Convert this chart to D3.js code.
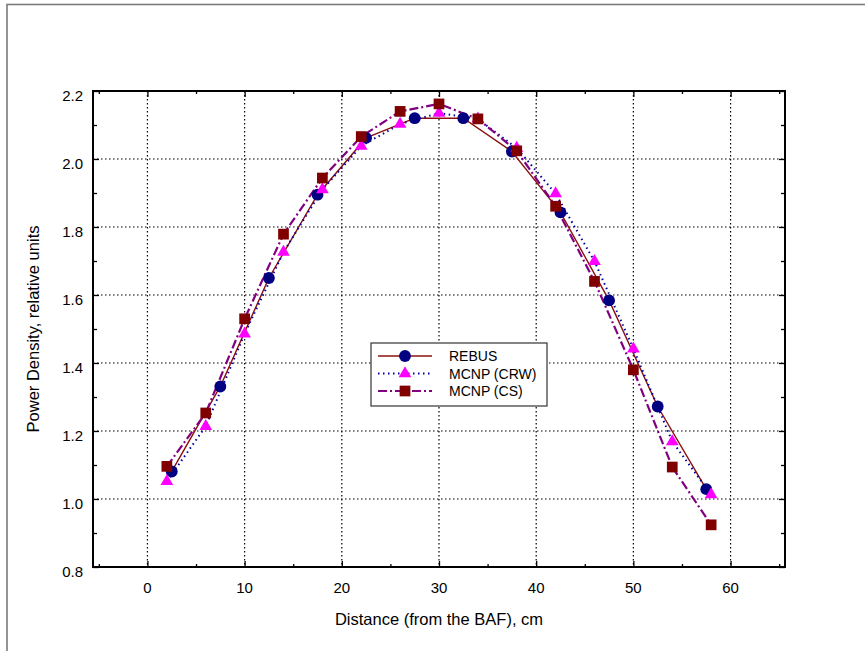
<!DOCTYPE html>
<html><head><meta charset="utf-8">
<script src="https://cdn.jsdelivr.net/npm/d3@7"></script>
<style>body{margin:0;background:#fff}svg{display:block}text{font-family:"Liberation Sans",Arial,sans-serif;fill:#000}</style>
</head><body><svg id="c" width="865" height="651"></svg>
<script>
const rebusX = [2.5, 7.5, 12.5, 17.5, 22.5, 27.5, 32.5, 37.5, 42.5, 47.5, 52.5, 57.5];
const rebusY = [1.081, 1.331, 1.650, 1.895, 2.062, 2.120, 2.120, 2.022, 1.843, 1.584, 1.272, 1.029];
const mcnpX = [2, 6, 10, 14, 18, 22, 26, 30, 34, 38, 42, 46, 50, 54, 58];
const crwY = [1.052, 1.214, 1.486, 1.726, 1.910, 2.038, 2.103, 2.135, 2.118, 2.032, 1.898, 1.699, 1.442, 1.169, 1.013];
const csY  = [1.096, 1.253, 1.530, 1.779, 1.944, 2.066, 2.140, 2.162, 2.118, 2.024, 1.861, 1.640, 1.380, 1.094, 0.924];
const xTicks = [0, 10, 20, 30, 40, 50, 60];
const xMinor = [-5, 5, 15, 25, 35, 45, 55, 65];
const yTicks = [0.8, 1.0, 1.2, 1.4, 1.6, 1.8, 2.0, 2.2];
const yMinor = [0.9, 1.1, 1.3, 1.5, 1.7, 1.9, 2.1];
const seriesNames = ["REBUS", "MCNP (CRW)", "MCNP (CS)"];
const xTitle = "Distance (from the BAF), cm";
const yTitle = "Power Density, relative units";

const svg = d3.select("#c");
const L = 93, R = 785, T = 91, B = 567;
const x = d3.scaleLinear().domain([-5.6, 65.6]).range([L, R]);
const y = d3.scaleLinear().domain([0.8, 2.2]).range([B, T]);

// outer frame
svg.append("rect").attr("x", 7).attr("y", 4.5).attr("width", 900).attr("height", 700)
  .attr("fill", "none").attr("stroke", "#7a7a7a").attr("stroke-width", 1.6);

// grid
const g = svg.append("g");
g.selectAll(".gx").data(xTicks).join("line")
  .attr("x1", d => x(d)).attr("x2", d => x(d)).attr("y1", T).attr("y2", B)
  .attr("stroke", "#000").attr("stroke-width", 1.2).attr("stroke-dasharray", "1.5,2.5");
g.selectAll(".gy").data(yTicks).join("line")
  .attr("y1", d => y(d)).attr("y2", d => y(d)).attr("x1", L).attr("x2", R)
  .attr("stroke", "#000").attr("stroke-width", 1.2).attr("stroke-dasharray", "1.5,2.5");

// axes with inward ticks
const axB = d3.axisBottom(x).tickValues(xTicks).tickSize(-6).tickFormat("");
const axT = d3.axisTop(x).tickValues(xTicks).tickSize(-6).tickFormat("");
const axLft = d3.axisLeft(y).tickValues(yTicks).tickSize(-6).tickFormat("");
const axRt = d3.axisRight(y).tickValues(yTicks).tickSize(-6).tickFormat("");
const axBm = d3.axisBottom(x).tickValues(xMinor).tickSize(-3).tickFormat("");
const axTm = d3.axisTop(x).tickValues(xMinor).tickSize(-3).tickFormat("");
const axLm = d3.axisLeft(y).tickValues(yMinor).tickSize(-4).tickFormat("");
const axRm = d3.axisRight(y).tickValues(yMinor).tickSize(-4).tickFormat("");
function put(ax, tr) {
  const a = svg.append("g").attr("transform", tr).call(ax);
  a.select(".domain").remove();
  a.selectAll("line").attr("stroke", "#000").attr("stroke-width", 1.3);
}
put(axB, `translate(0,${B})`); put(axT, `translate(0,${T})`);
put(axLft, `translate(${L},0)`); put(axRt, `translate(${R},0)`);
put(axBm, `translate(0,${B})`); put(axTm, `translate(0,${T})`);
put(axLm, `translate(${L},0)`); put(axRm, `translate(${R},0)`);
svg.append("rect").attr("x", L).attr("y", T).attr("width", R - L).attr("height", B - T)
  .attr("fill", "none").attr("stroke", "#000").attr("stroke-width", 2);

// tick labels
svg.selectAll(".xl").data(xTicks).join("text")
  .attr("x", d => x(d)).attr("y", B + 25.5).attr("text-anchor", "middle")
  .attr("font-size", 15).text(d => d);
svg.selectAll(".yl").data(yTicks).join("text")
  .attr("x", L - 10).attr("y", d => y(d) + 9.5).attr("text-anchor", "end")
  .attr("font-size", 15).text(d => d.toFixed(1));

// titles
svg.append("text").attr("x", 439).attr("y", B + 58).attr("text-anchor", "middle")
  .attr("font-size", 16.5).text(xTitle);
svg.append("text").attr("transform", `translate(39,${(T + B) / 2}) rotate(-90)`)
  .attr("text-anchor", "middle").attr("font-size", 16.5).text(yTitle);

// series
const line = d3.line().x(d => x(d[0])).y(d => y(d[1]));
const rebus = rebusX.map((v, i) => [v, rebusY[i]]);
const crw = mcnpX.map((v, i) => [v, crwY[i]]);
const cs = mcnpX.map((v, i) => [v, csY[i]]);
const styles = [
  {data: rebus, stroke: "#8b1010", width: 1.4, dash: null, marker: "circle", fill: "#000080"},
  {data: crw, stroke: "#0000a0", width: 2, dash: "1.5,3.5", marker: "triangle", fill: "#ff00ff"},
  {data: cs, stroke: "#800080", width: 2.2, dash: "9,3,2,3", marker: "square", fill: "#800000"}
];
const sym = {circle: d3.symbol(d3.symbolCircle, 110), triangle: d3.symbol(d3.symbolTriangle, 70), square: d3.symbol(d3.symbolSquare, 115)};
styles.forEach(s => {
  svg.append("path").attr("d", line(s.data)).attr("fill", "none")
    .attr("stroke", s.stroke).attr("stroke-width", s.width).attr("stroke-dasharray", s.dash);
});
styles.forEach(s => {
  svg.selectAll(null).data(s.data).join("path")
    .attr("transform", d => `translate(${x(d[0])},${y(d[1])})`)
    .attr("d", sym[s.marker]()).attr("fill", s.fill);
});

// legend
const lg = svg.append("g");
lg.append("rect").attr("x", 371).attr("y", 343).attr("width", 176).attr("height", 63)
  .attr("fill", "#fff").attr("stroke", "#333").attr("stroke-width", 1.2);
styles.forEach((s, i) => {
  const yy = 356 + i * 17.5;
  lg.append("line").attr("x1", 378).attr("x2", 432).attr("y1", yy).attr("y2", yy)
    .attr("stroke", s.stroke).attr("stroke-width", s.width).attr("stroke-dasharray", s.dash);
  lg.append("path").attr("transform", `translate(405,${yy})`).attr("d", sym[s.marker]()).attr("fill", s.fill);
  lg.append("text").attr("x", 449).attr("y", yy + 5).attr("font-size", 14).text(seriesNames[i]);
});
</script></body></html>
